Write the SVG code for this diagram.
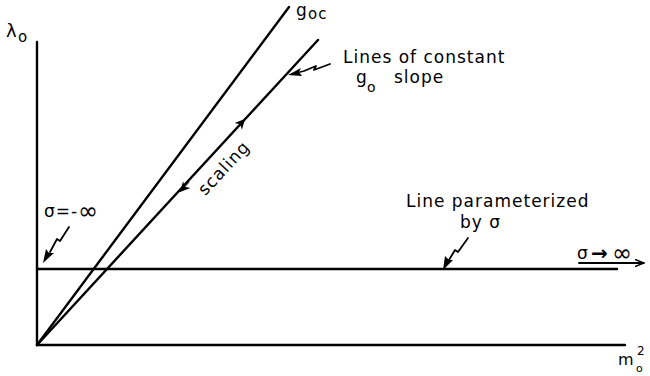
<svg xmlns="http://www.w3.org/2000/svg" width="650" height="376" viewBox="0 0 650 376">
<defs>
<style>
.ln{stroke:#000;stroke-width:2.4;fill:none;stroke-linecap:round}
.thin{stroke:#000;stroke-width:1.8;fill:none;stroke-linecap:round;stroke-linejoin:round}
.t{font-family:"DejaVu Sans","Liberation Sans",sans-serif;font-size:17px;fill:#000;letter-spacing:1px}
.s{font-family:"DejaVu Sans","Liberation Sans",sans-serif;font-size:14px;fill:#000}
.inf{font-family:"DejaVu Sans",sans-serif;font-size:24px;fill:#000}
</style>
<marker id="ah" viewBox="0 0 10 10" refX="10" refY="5" markerWidth="13" markerHeight="10" orient="auto" markerUnits="userSpaceOnUse">
<path d="M0,0 L10,5 L0,10 L3,5 Z" fill="#000"/>
</marker>
<marker id="op" viewBox="0 0 10 10" refX="10" refY="5" markerWidth="9" markerHeight="9" orient="auto" markerUnits="userSpaceOnUse">
<path d="M0,1 L10,5 L0,9" fill="none" stroke="#000" stroke-width="1.6"/>
</marker>
</defs>
<rect width="650" height="376" fill="#fff"/>
<g id="connectors">
<line class="ln" x1="37" y1="42" x2="37" y2="345"/>
<line class="ln" x1="37" y1="345" x2="625" y2="345"/>
<line class="ln" x1="37" y1="269" x2="617" y2="269"/>
<line class="ln" x1="37" y1="345" x2="289" y2="7"/>
<line class="ln" x1="37" y1="345" x2="318" y2="40"/>
<line class="thin" x1="579" y1="263" x2="644" y2="263" marker-end="url(#op)"/>
<line x1="236" y1="128.8" x2="245" y2="119" stroke="#000" stroke-width="1" marker-end="url(#ah)"/>
<line x1="189" y1="182.2" x2="180" y2="192" stroke="#000" stroke-width="1" marker-end="url(#ah)"/>
<path class="thin" d="M330,64 L314,70 L316,66 L304,71 L300,72"/>
<path d="M288,75 L301,68 L299,72 L302,76 Z" fill="#000"/>
<path class="thin" d="M69,227 L60,241 L57,239 L50,252"/>
<path d="M43,263 L46,249 L49,253 L54,253 Z" fill="#000"/>
<path class="thin" d="M468,238 L458,252 L455,250 L449,260"/>
<path d="M443,270 L445,256 L449,260 L453,260 Z" fill="#000"/>
</g>
<g id="lambda-label"><text class="t" x="6" y="37" style="font-size:18px">λ</text><text class="s" x="18" y="42" style="font-size:15px">o</text></g>
<g id="goc-label"><text class="t" x="296" y="16">g</text><text class="s" x="308" y="19" style="font-size:15px;letter-spacing:1px">oc</text></g>
<g id="constant-label"><text class="t" x="343" y="63">Lines of constant</text><text class="t" x="356" y="83">g</text><text class="s" x="367" y="92">o</text><text class="t" x="394" y="83">slope</text></g>
<g id="scaling-label"><text class="t" x="0" y="0" transform="translate(228,172) rotate(-47)" text-anchor="middle">scaling</text></g>
<g id="param-label"><text class="t" x="406" y="207">Line parameterized</text><text class="t" x="460" y="228">by σ</text></g>
<g id="sigma-minus-label"><text class="t" x="44" y="217">σ=-</text><text class="inf" x="78" y="219">∞</text></g>
<g id="sigma-plus-label"><text class="t" x="577" y="259">σ</text><text class="t" x="591" y="260" style="font-weight:bold;font-size:20px;letter-spacing:0">→</text><text class="inf" x="612" y="261">∞</text></g>
<g id="m-label"><text class="t" x="618" y="365" style="letter-spacing:0;font-size:16px">m</text><text class="s" x="637" y="355" style="font-size:12px">2</text><text class="s" x="636" y="372" style="font-size:11px">o</text></g>
</svg>
